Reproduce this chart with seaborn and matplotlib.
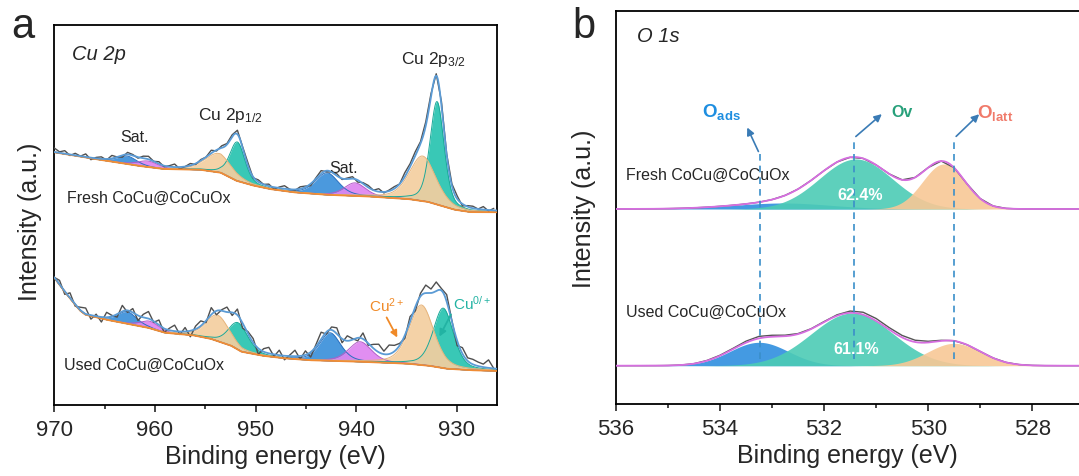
import numpy as np
import matplotlib
matplotlib.use("Agg")
import matplotlib.pyplot as plt
import seaborn as sns
from matplotlib.ticker import MultipleLocator

# ---------------- data: Cu 2p ----------------
# raw spectra sampled every 0.52 eV from 970 eV down to about 926 eV
cu_raw_ev = np.arange(970.0, 925.9, -0.52)
# residual of the raw counts around the fitted envelope (read by eye)
fresh_cu_noise = [4, 1, 3, -1, 2, 0, 3, -2, 1, 2, -1, 3, 0, -2, 2, 1, -1, 2, 3, 0,
                  2, -1, 1, 3, -2, 0, 2, -1, 1, 0, 3, -1, 2, 1, 2, 4, 1, 3, -1, 2,
                  0, 2, -2, 1, 3, 0, -1, 2, 1, -2, 1, 3, -1, 0, 2, -1, 1, 2, -2, 1,
                  2, 0, 3, -1, 1, 2, 0, 4, 3, 4, 2, 4, 3, 2, 4, 1, 2, 3, -2, 1,
                  2, 0, 3, -1, 2]
used_cu_noise = [0, 4, -3, 5, -2, 3, 6, -4, 2, -5, 5, 1, -3, 6, -2, 4, -5, 3, 7, -1,
                 5, -4, 2, 6, -3, 4, -6, 3, 5, -2, 7, -4, 1, 5, -3, 6, -5, 2, 4, -6,
                 3, 6, -2, 5, -4, 1, 6, -3, 4, -5, 2, 7, -2, 3, 6, -4, 5, 1, -3, 6,
                 -2, 4, 8, 3, 9, 6, 2, -3, 5, -4, 3, 8, 4, 9, 2, 7, 1, -5, 6, 3,
                 5, 4, 3, 8, 0]

# background (Shirley-like) knots
fresh_bg_ev = [970, 965.86, 963.8, 961.73, 959.15, 955.53, 953.46, 951.91, 950.36, 948.6,
               946.22, 943.12, 938.99, 934.85, 932.92, 931.75, 930.2, 928.65, 923.5]
fresh_bg = [252.4, 245.5, 242.4, 239, 235.7, 235, 232, 224, 219.5, 215.7,
            212.4, 210, 208.4, 205.7, 203, 199.5, 195, 192.6, 192.4]
used_bg_ev = [970, 968.97, 967.93, 967.42, 966.9, 964.83, 962.76, 960.7, 959.04, 956.25,
              954.49, 952.43, 951.39, 949.32, 947.26, 944.67, 941.05, 937.85, 934.85, 932.78,
              931.03, 928.65, 923.5]
used_bg = [127, 113, 100, 94, 90, 85, 81, 77, 72, 69.5,
           66, 59, 53, 49, 46.5, 44.5, 43.5, 42.3, 41, 39,
           36, 34.5, 33]

# fitted components: sat, sat, Cu2+ 2p1/2, Cu0/+ 2p1/2, sat, sat, Cu2+ 2p3/2, Cu0/+ 2p3/2
cu_kind = ["blue", "pink", "tan", "teal", "blue", "pink", "tan", "teal"]
fresh_cu_center = [962.76, 960.7, 953.67, 951.81, 942.91, 940.12, 933.4, 931.96]
fresh_cu_height = [8, 6, 19, 39, 22, 13, 45, 103]
fresh_cu_fwhm = [2.27, 2.48, 3.1, 1.76, 2.69, 2.48, 3.1, 1.65]
used_cu_center = [962.76, 960.49, 953.77, 951.7, 942.6, 939.61, 933.51, 931.34]
used_cu_height = [12, 7, 26, 27, 28, 20, 60, 60]
used_cu_fwhm = [2.27, 2.27, 2.69, 2.27, 2.48, 2.69, 2.89, 2.38]

# ---------------- data: O 1s ----------------
o_raw_ev = np.arange(536.0, 526.99, -0.25)
o_kind = ["blue", "teal", "tan"]  # O_ads, Ov, O_latt
fresh_o_center = [532.8, 531.39, 529.70]
fresh_o_height = [6, 50, 45]
fresh_o_fwhm = [2.2, 1.65, 0.96]
fresh_o_bg = 195
used_o_center = [533.25, 531.46, 529.50]
used_o_height = [23.4, 52.7, 22.4]
used_o_fwhm = [1.33, 1.85, 1.2]
used_o_bg = 38.3
fresh_o_noise = [0] * 37
used_o_noise = [0, 0, 0, 0, 0, 0, 0, 0.3, 0.5, 0.8, 1.5, 2, 1.5, 1, 0.5, 0.3, 0.5, 1, 1.8, 2.5,
                2.5, 2, 2, 1.8, 1.2, 0.6, 0.3, 0, 0, 0, 0, 0, 0, 0, 0, 0, 0]
fresh_ov_pct = "62.4%"
used_ov_pct = "61.1%"

# ---------------- style ----------------
sns.set_style("ticks")
plt.rcParams['font.family'] = ['Liberation Sans', 'DejaVu Sans']
plt.rcParams['mathtext.fontset'] = 'custom'
plt.rcParams['mathtext.rm'] = 'Liberation Sans'
plt.rcParams['mathtext.it'] = 'Liberation Sans:italic'
plt.rcParams['mathtext.bf'] = 'Liberation Sans:bold'

cu_fill = {"blue": "#3c90da", "pink": "#df85f0", "tan": "#f4cea0", "teal": "#28c4b0"}
cu_edge = {"blue": "#2a6fbf", "pink": "#b45cc8", "tan": "#e6b47c", "teal": "#1aa898"}
o_fill = {"blue": "#2f8fdf", "teal": "#4ccbb5", "tan": "#f8c896"}


def pvoigt(x, c, h, w, eta):
    g = np.exp(-4 * np.log(2) * ((x - c) / w) ** 2)
    lor = 1 / (1 + 4 * ((x - c) / w) ** 2)
    return h * ((1 - eta) * g + eta * lor)


def draw_spectrum(ax, x, bg, centers, heights, fwhms, kinds, raw_x, raw_bg, noise,
                  fills, edges, eta, env_color, raw_color, order, alpha):
    comps = [pvoigt(x, c, h, w, eta) for c, h, w in zip(centers, heights, fwhms)]
    for i in order:
        ax.fill_between(x, bg, bg + comps[i], color=fills[kinds[i]], alpha=alpha, lw=0, zorder=2)
        if edges is not None:
            ax.plot(x, bg + comps[i], color=edges[kinds[i]], lw=0.7, zorder=2.5)
    raw_fit = raw_bg + sum(pvoigt(raw_x, c, h, w, eta) for c, h, w in zip(centers, heights, fwhms))
    raw = raw_fit + np.array(noise)
    sns.lineplot(x=raw_x, y=raw, ax=ax, color=raw_color, lw=1.0, sort=False, estimator=None, zorder=3)
    sns.lineplot(x=x, y=bg + sum(comps), ax=ax, color=env_color, lw=1.3, sort=False, estimator=None, zorder=4)


fig = plt.figure(figsize=(10.79, 4.77), dpi=100)
W, H = 1079, 477
ax_a = fig.add_axes([54.3 / W, 1 - 405.7 / H, (497 - 54.3) / W, (405.7 - 25.9) / H])
ax_b = fig.add_axes([616 / W, 1 - 405 / H, (W - 616) / W, (405 - 12.3) / H])

# ---------------- panel a ----------------
xa = np.linspace(970, 926, 900)
for bg_ev, bg_v, cen, hei, fw, noise in [
        (fresh_bg_ev, fresh_bg, fresh_cu_center, fresh_cu_height, fresh_cu_fwhm, fresh_cu_noise),
        (used_bg_ev, used_bg, used_cu_center, used_cu_height, used_cu_fwhm, used_cu_noise)]:
    bg = np.interp(xa, bg_ev[::-1], bg_v[::-1])
    raw_bg = np.interp(cu_raw_ev, bg_ev[::-1], bg_v[::-1])
    draw_spectrum(ax_a, xa, bg, cen, hei, fw, cu_kind, cu_raw_ev, raw_bg, noise,
                  cu_fill, cu_edge, 0.4, "#5b9bd5", "#4f4f4f", [0, 1, 4, 5, 3, 7, 2, 6], 0.92)
    ax_a.plot(xa, bg, color="#f08c35", lw=1.3, zorder=3.5)

ax_a.set_xlim(970, 926)
ax_a.set_ylim(0, 379.8)
ax_a.set_xticks([970, 960, 950, 940, 930])
ax_a.xaxis.set_minor_locator(MultipleLocator(5))
ax_a.set_yticks([])

ax_a.text(968.24, 350.7, "Cu 2p", fontsize=14.5, style="italic", ha="left", va="center")
ax_a.text(932.37, 346.5, r"Cu 2p$_{3/2}$", fontsize=12.5, ha="center", va="center")
ax_a.text(952.49, 290.4, r"Cu 2p$_{1/2}$", fontsize=12.5, ha="center", va="center")
ax_a.text(962.04, 268.4, "Sat.", fontsize=11.5, ha="center", va="center")
ax_a.text(941.26, 237.4, "Sat.", fontsize=11.5, ha="center", va="center")
ax_a.text(968.72, 207, "Fresh CoCu@CoCuOx", fontsize=11.5, ha="left", va="center")
ax_a.text(969.07, 40.7, "Used CoCu@CoCuOx", fontsize=11.5, ha="left", va="center")
ax_a.text(936.95, 100, r"Cu$^{2+}$", fontsize=11, color="#f08a28", ha="center", va="center")
ax_a.text(928.5, 101.5, r"Cu$^{0/+}$", fontsize=11, color="#22b3a3", ha="center", va="center")
ax_a.annotate("", xy=(935.78, 64.7), xytext=(937.1, 89.7),
              arrowprops=dict(arrowstyle="-|>", color="#f08a28", lw=1.3, mutation_scale=10), zorder=6)
ax_a.annotate("", xy=(931.85, 65.7), xytext=(930.45, 92.7),
              arrowprops=dict(arrowstyle="-|>", color="#22b3a3", lw=1.3, mutation_scale=10), zorder=6)
ax_a.set_xlabel("Binding energy (eV)", fontsize=18, labelpad=3)
ax_a.set_ylabel("Intensity (a.u.)", fontsize=18)
ax_a.yaxis.set_label_coords(-0.028, 0.484)

# ---------------- panel b ----------------
xb = np.linspace(536, 527, 700)
for base, cen, hei, fw, noise in [
        (fresh_o_bg, fresh_o_center, fresh_o_height, fresh_o_fwhm, fresh_o_noise),
        (used_o_bg, used_o_center, used_o_height, used_o_fwhm, used_o_noise)]:
    bg = np.full_like(xb, base)
    raw_bg = np.full_like(o_raw_ev, base)
    draw_spectrum(ax_b, xb, bg, cen, hei, fw, o_kind, o_raw_ev, raw_bg, noise,
                  o_fill, None, 0.0, "#d66ee0", "#555555", [0, 1, 2], 0.9)

ax_b.set_xlim(536, 527.1)
ax_b.set_ylim(0, 392.7)
ax_b.set_xticks([536, 534, 532, 530, 528])
ax_b.xaxis.set_minor_locator(MultipleLocator(1))
ax_b.set_yticks([])
ax_b.spines["right"].set_visible(False)

ax_b.text(535.6, 369, "O 1s", fontsize=14.5, style="italic", ha="left", va="center")
ax_b.text(535.8, 230, "Fresh CoCu@CoCuOx", fontsize=11.5, ha="left", va="center")
ax_b.text(535.8, 93, "Used CoCu@CoCuOx", fontsize=11.5, ha="left", va="center")
ax_b.text(531.3, 210, fresh_ov_pct, fontsize=11.5, color="white", fontweight="bold", ha="center", va="center", zorder=6)
ax_b.text(531.39, 55, used_ov_pct, fontsize=11.5, color="white", fontweight="bold", ha="center", va="center", zorder=6)
ax_b.text(533.98, 293.3, r"O$_{\mathbf{ads}}$", fontsize=13.5, color="#1e8ee0", fontweight="bold", ha="center", va="center")
ax_b.text(530.5, 292.7, "Ov", fontsize=11.5, color="#27a07a", fontweight="bold", ha="center", va="center")
ax_b.text(528.71, 292.3, r"O$_{\mathbf{latt}}$", fontsize=13.5, color="#f07a6a", fontweight="bold", ha="center", va="center")

arrow_col = "#3a7bb5"
for x0, top, (xe, ye) in [(533.24, 250, (533.5, 279)),
                          (531.43, 265.7, (530.85, 291.7)),
                          (529.5, 265.7, (528.98, 291.7))]:
    ax_b.plot([x0, x0], [45, top], color="#3a8fc9", lw=1.2, ls=(0, (4, 3)), zorder=5)
    ax_b.annotate("", xy=(xe, ye), xytext=(x0, top),
                  arrowprops=dict(arrowstyle="-|>", color=arrow_col, lw=1.2, mutation_scale=11), zorder=6)

ax_b.set_xlabel("Binding energy (eV)", fontsize=18, labelpad=3)
ax_b.set_ylabel("Intensity (a.u.)", fontsize=18)
ax_b.yaxis.set_label_coords(-0.043, 0.5)

for ax in (ax_a, ax_b):
    for s in ax.spines.values():
        s.set_linewidth(1.3)
        s.set_color("black")
    ax.tick_params(axis="x", which="major", direction="out", length=5, width=1.2, labelsize=16, pad=5)
    ax.tick_params(axis="x", which="minor", direction="out", length=3, width=1.2)

fig.text(23 / W, 1 - 38.3 / H, "a", fontsize=30, ha="center", va="baseline")
fig.text(584 / W, 1 - 38.3 / H, "b", fontsize=30, ha="center", va="baseline")

fig.savefig("out.png", dpi=100)
